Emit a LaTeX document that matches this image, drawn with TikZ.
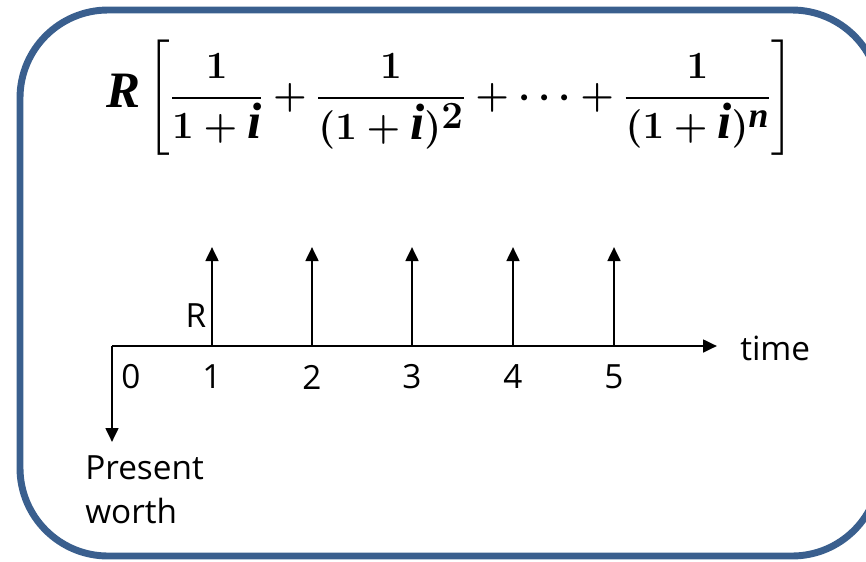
\documentclass[tikz,border=0pt]{standalone}
\usepackage{amsmath}
\usepackage{graphicx}
\usepackage{fontspec}
\setmainfont{Liberation Serif}
\setsansfont{Open Sans}
\usetikzlibrary{
arrows.meta,
positioning
}
\definecolor{PWFrame}{HTML}{3A5F8E}
\newsavebox{\pwbox}
\tikzset{
pwframe/.style={draw=PWFrame, line width=5.2pt, rounded corners=66pt},
pwarrow/.style={-{Triangle[length=10.5pt,width=9.5pt]}, line width=2pt},
pwlabel/.style={font=\sffamily\fontsize{25}{33}\selectfont, inner sep=0pt},
pweq/.style={inner sep=0pt}
}

\begin{document}
\sbox{\pwbox}{\scalebox{1.16}{\fontsize{33}{40}\selectfont\boldmath$\mathit{R}\left[\dfrac{1}{1+\mathit{i}}+\dfrac{1}{(1+\mathit{i})^{2}}+\cdots+\dfrac{1}{(1+\mathit{i})^{\mathit{n}}}\right]$}}%
\begin{tikzpicture}[x=0.75pt, y=-0.75pt]
\useasboundingbox (0,0) rectangle (866,561);
\clip (0,0) rectangle (866,561);
\draw[pwframe] (20,10) rectangle (880,556);

% formula
\node[pweq] (eq) at (450,98) {\usebox{\pwbox}};

% time line
\coordinate (t0) at (112,346);
\coordinate (tend) at (717,346);
\coordinate (pw) at (112,442);
\draw[pwarrow] (t0) -- (tend);
\draw[pwarrow] (t0) -- (pw);
\foreach \k/\x in {1/212,2/312,3/412,4/513,5/614}{
  \coordinate (p\k) at (\x,346);
  \coordinate (r\k) at (\x,247);
  \draw[pwarrow] (p\k) -- (r\k);
  \node[pwlabel] (n\k) at (\x,377) {\k};
}
\node[pwlabel] (n0) at (131,377) {0};
\node[pwlabel] (rlab) at (196,316) {R};
\node[pwlabel, anchor=west] (time) at (740,348) {time};
\node[pwlabel, anchor=west, align=left] (pwlab) at (85,490) {Present\\worth};
\end{tikzpicture}
\end{document}
